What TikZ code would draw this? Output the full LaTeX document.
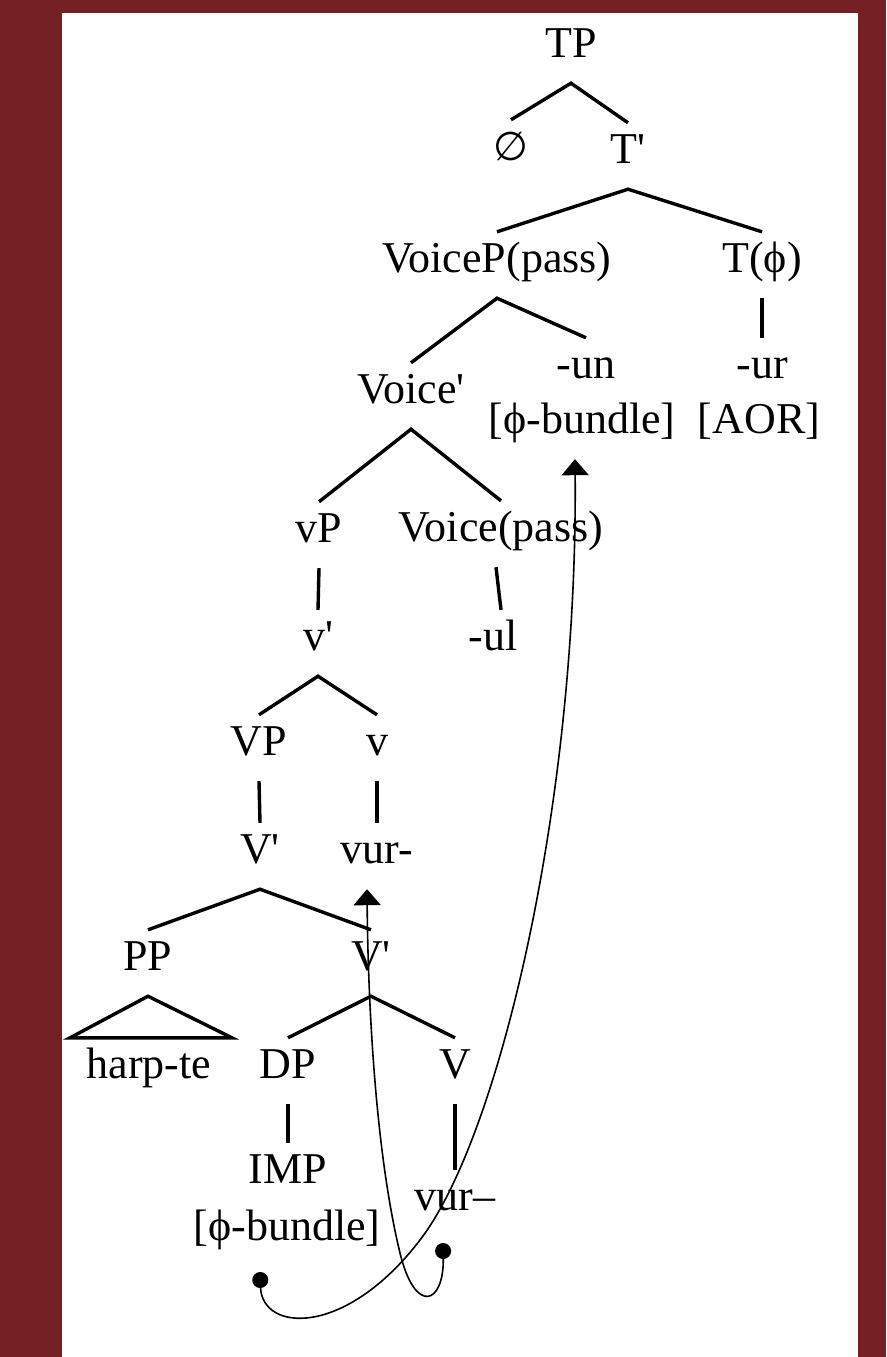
\documentclass[tikz,border=0pt]{standalone}
\usepackage{fontspec}
\setmainfont{Liberation Serif}
\newfontfamily\dvsfont{DejaVu Sans}
\usetikzlibrary{arrows.meta}
\definecolor{framered}{RGB}{117,32,37}

\begin{document}
\begin{tikzpicture}[x=1pt,y=-1pt,
  lab/.style={font=\fontsize{44}{53}\selectfont, inner sep=0pt, text height=40pt, text depth=26pt, anchor=base},
  tree/.style={line width=3.4pt},
  move/.style={line width=1.6pt, {Circle[length=16pt]}-{Triangle[width=27pt,length=16pt]}}]
\useasboundingbox (0,0) rectangle (886,1357);
\fill[framered] (0,0) rectangle (886,1357);
\fill[white] (62,13) rectangle (858,1357);

\node[lab] (TP) at (571,57) {TP};
\node[lab] (null) at (511,160) {\dvsfont\fontsize{40}{48}\selectfont ∅};
\node[lab] (Tbar) at (628,163) {T\textquotesingle};
\node[lab] (VoiceP) at (497,272) {VoiceP(pass)};
\node[lab] (Tphi) at (762,272) {T(ϕ)};
\node[lab] (Voicebar) at (411,403) {Voice\textquotesingle};
\node[lab] (un) at (586,378) {-un};
\node[lab] (unf) at (582,433) {[ϕ-bundle]};
\node[lab] (ur) at (762,378) {-ur};
\node[lab] (aor) at (759,433) {[AOR]};
\node[lab] (vP) at (319,542) {vP};
\node[lab] (Voice) at (501,541) {Voice(pass)};
\node[lab] (vbar) at (318,650) {v\textquotesingle};
\node[lab] (ul) at (493,650) {-ul};
\node[lab] (VP) at (259,755) {VP};
\node[lab] (v) at (377,755) {v};
\node[lab] (Vbar) at (260,863) {V\textquotesingle};
\node[lab] (vurhi) at (377,863) {vur-};
\node[lab] (PP) at (148,970) {PP};
\node[lab] (Vbarlo) at (371,970) {V\textquotesingle};
\node[lab] (harp) at (149,1078) {harp-te};
\node[lab] (DP) at (288,1078) {DP};
\node[lab] (V) at (455,1078) {V};
\node[lab] (IMP) at (288,1183) {IMP};
\node[lab] (impf) at (287,1240) {[ϕ-bundle]};
\node[lab] (vurlo) at (455,1210) {vur--};

% branches
\draw[tree] (null.north) -- (TP.south) -- (Tbar.north);
\draw[tree] (VoiceP.north) -- (Tbar.south) -- (Tphi.north);
\draw[tree] (Tphi.south) -- (ur.north);
\draw[tree] (Voicebar.north) -- (VoiceP.south) -- (un.north);
\draw[tree] (vP.north) -- (Voicebar.south) -- (Voice.north);
\draw[tree] (vP.south) -- (vbar.north);
\draw[tree] ([xshift=-5pt]Voice.south) -- ([xshift=8pt]ul.north);
\draw[tree] (VP.north) -- (vbar.south) -- (v.north);
\draw[tree] (VP.south) -- (Vbar.north);
\draw[tree] (v.south) -- (vurhi.north);
\draw[tree] (PP.north) -- (Vbar.south) -- (Vbarlo.north);
\draw[tree] (PP.south) -- ([xshift=-79pt]harp.north) -- ([xshift=83pt]harp.north) -- cycle;
\draw[tree] (DP.north) -- (Vbarlo.south) -- (V.north);
\draw[tree] (DP.south) -- (IMP.north);
\draw[tree] (V.south) -- (vurlo.north);

% movement
\coordinate (dotimp) at (260,1272);
\coordinate (dotvur) at (443,1243);
\draw[move] (dotimp) .. controls (262,1332) and (345,1338) .. (420,1240)
  .. controls (500,1136) and (578,800) .. ([xshift=-7pt]unf.south);
\draw[move] (dotvur) .. controls (444,1305) and (415,1315) .. (400,1253)
  .. controls (375,1150) and (368,1000) .. ([xshift=-10pt]vurhi.south);
\end{tikzpicture}
\end{document}
